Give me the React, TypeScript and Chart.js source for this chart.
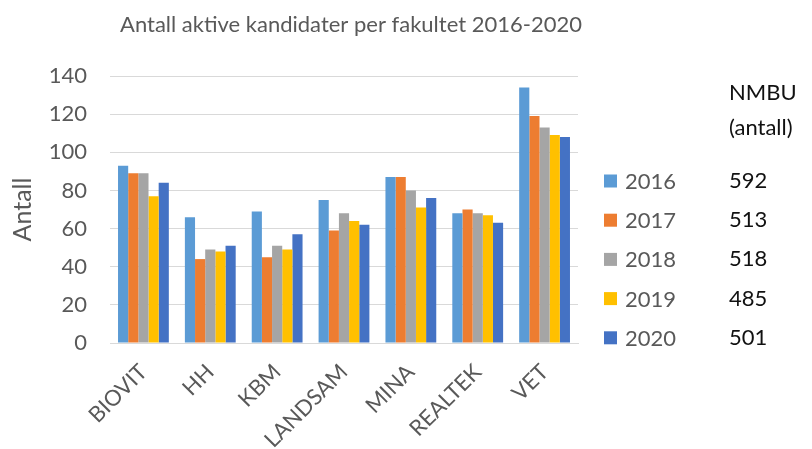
import React, { useEffect, useRef } from "react";
import { Chart, registerables } from "chart.js";

Chart.register(...registerables);

const categories = ["BIOVIT", "HH", "KBM", "LANDSAM", "MINA", "REALTEK", "VET"];
const years = ["2016", "2017", "2018", "2019", "2020"];
const values2016 = [93, 66, 69, 75, 87, 68, 134];
const values2017 = [89, 44, 45, 59, 87, 70, 119];
const values2018 = [89, 49, 51, 68, 80, 68, 113];
const values2019 = [77, 48, 49, 64, 71, 67, 109];
const values2020 = [84, 51, 57, 62, 76, 63, 108];
const nmbuTotals = ["592", "513", "518", "485", "501"];
const colors = ["#5B9BD5", "#ED7D31", "#A5A5A5", "#FFC000", "#4472C4"];
const titleText = "Antall aktive kandidater per fakultet 2016-2020";
const yTitle = "Antall";
const nmbuHeader = ["NMBU", "(antall)"];

const FONT = "Lato, 'Open Sans', sans-serif";
const GREY = "#595959";

const overlayPlugin = {
  id: "overlay",
  afterDraw(chart: any) {
    const { ctx, chartArea } = chart;
    ctx.save();
    // title
    ctx.fillStyle = GREY;
    ctx.font = `22px ${FONT}`;
    ctx.textAlign = "center";
    ctx.textBaseline = "middle";
    ctx.fillText(titleText, (chartArea.left + chartArea.right) / 2 + 7, 25);
    // legend
    const legX = chartArea.right + 26;
    const legY0 = 181;
    const step = 39.2;
    ctx.textAlign = "left";
    ctx.font = `22px ${FONT}`;
    chart.data.datasets.forEach((ds: any, i: number) => {
      const y = legY0 + i * step;
      ctx.fillStyle = ds.backgroundColor;
      ctx.fillRect(legX, y - 6.5, 13, 13);
      ctx.fillStyle = GREY;
      ctx.fillText(ds.label, legX + 21, y + 1);
      ctx.fillStyle = "#111111";
      ctx.fillText(nmbuTotals[i], legX + 125, y);
    });
    ctx.fillStyle = "#111111";
    ctx.fillText(nmbuHeader[0], legX + 125, 93);
    ctx.fillText(nmbuHeader[1], legX + 125, 128);
    ctx.restore();
  },
};

export default function App() {
  const ref = useRef<HTMLCanvasElement>(null);
  useEffect(() => {
    const datasetsValues = [values2016, values2017, values2018, values2019, values2020];
    const chart = new Chart(ref.current!, {
      type: "bar",
      data: {
        labels: categories,
        datasets: years.map((y, i) => ({
          label: y,
          data: datasetsValues[i],
          backgroundColor: colors[i],
          borderWidth: 0,
          categoryPercentage: 0.76,
          barPercentage: 1,
        })),
      },
      options: {
        animation: false,
        responsive: true,
        maintainAspectRatio: false,
        layout: { padding: { top: 76, right: 234, left: 0, bottom: 0 } },
        plugins: {
          legend: { display: false },
          title: { display: false },
          tooltip: { enabled: false },
        },
        scales: {
          x: {
            grid: { display: false, drawTicks: false },
            border: { display: true, color: "#d9d9d9" },
            ticks: {
              color: GREY,
              font: { family: FONT, size: 22 },
              maxRotation: 45,
              minRotation: 45,
              padding: 16,
              autoSkip: false,
            },
            afterFit(scale: any) {
              scale.height = 106;
            },
          },
          y: {
            min: 0,
            max: 140,
            ticks: {
              stepSize: 20,
              color: GREY,
              font: { family: FONT, size: 22 },
              padding: 23,
            },
            grid: { color: "#d9d9d9", drawTicks: false },
            border: { display: false },
            title: {
              display: true,
              text: yTitle,
              color: GREY,
              font: { family: FONT, size: 25 },
              padding: { top: 8, bottom: 0 },
            },
            afterFit(scale: any) {
              scale.width = 110;
            },
          },
        },
      },
      plugins: [overlayPlugin],
    });
    return () => chart.destroy();
  }, []);
  return (
    <div style={{ position: "fixed", left: 0, top: 0, width: 812, height: 449, background: "#fff" }}>
      <canvas ref={ref} />
    </div>
  );
}
